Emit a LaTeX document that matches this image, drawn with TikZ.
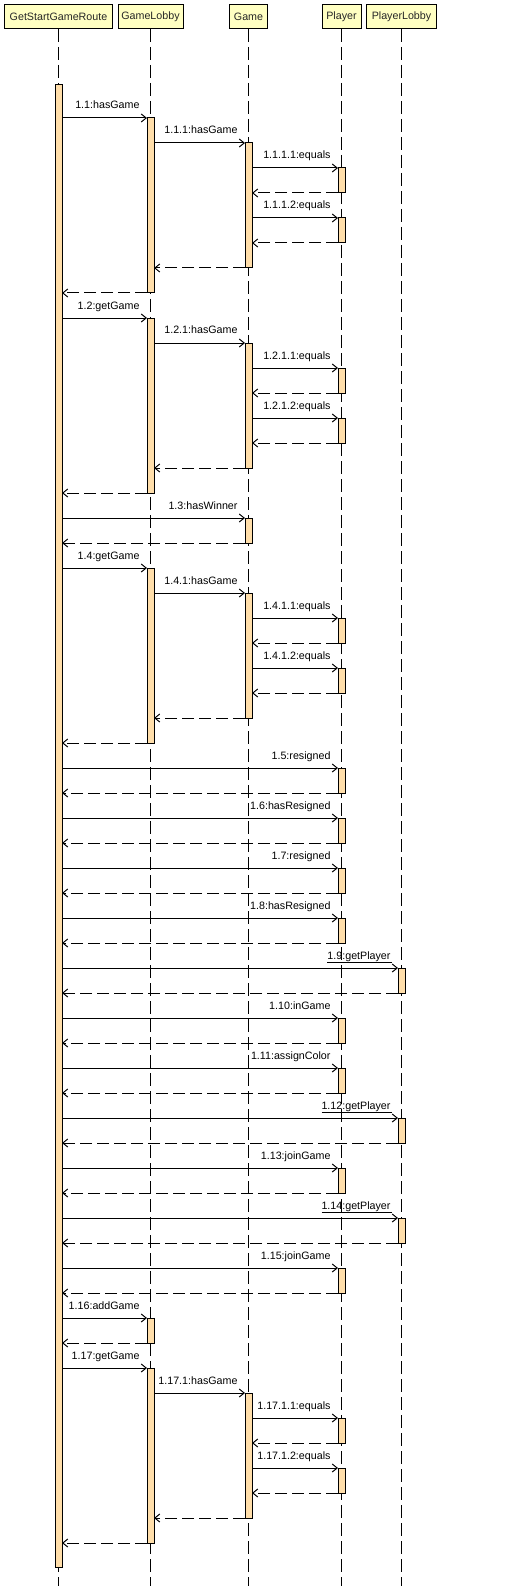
\documentclass[tikz,border=0pt]{standalone}
\usepackage{fontspec}
\setmainfont{Liberation Sans}
\usetikzlibrary{arrows.meta}
\definecolor{headfill}{RGB}{255,255,194}
\definecolor{actfill}{RGB}{255,222,170}
\tikzset{
  head/.style={draw=black, fill=headfill, line width=1pt, minimum height=24pt, inner sep=0pt, outer sep=0pt, font=\fontsize{10.7}{12}\selectfont, text=black!85},
  life/.style={line width=1pt, dash pattern=on 13pt off 5pt},
  act/.style={draw=black, fill=actfill, line width=1pt, minimum width=7pt, inner sep=0pt, outer sep=0pt},
  call/.style={line width=1pt, -{Straight Barb[length=5pt,width=8pt]}},
  ret/.style={call, dash pattern=on 12pt off 5pt},
  lbl/.style={font=\fontsize{10.7}{12}\selectfont, inner sep=0pt, anchor=base east, text=black},
}
\newcommand\actbar[4]{\pgfmathsetmacro\acttop{-118-25*(#3)}\pgfmathsetmacro\actht{25*((#4)-(#3))}\node[act, anchor=north, minimum height=\actht pt] (#1) at (#2,\acttop) {};}
\newcommand\msg[4]{\pgfmathsetmacro\my{-118-25*(#3)}\draw[call] (#1.east |- 0,\my) -- (#2.west |- 0,\my) node[lbl, xshift=-7pt, yshift=9pt]{#4};}
\newcommand\rmsg[3]{\pgfmathsetmacro\my{-118-25*(#3)}\draw[ret] (#1.west |- 0,\my) -- (#2.east |- 0,\my);}
\newcommand\ul[1]{{\setbox0\hbox{#1}\rlap{\vrule height -2.5pt depth 3.5pt width \dimexpr\wd0+1pt\relax}\box0}}
\begin{document}
\begin{tikzpicture}[x=1pt,y=1pt]
\useasboundingbox (0,0) rectangle (511,-1586);
% headers
\node[head, minimum width=108pt] (hR) at (58.5,-17) {GetStartGameRoute};
\node[head, minimum width=65pt] (hL) at (150.5,-17) {GameLobby};
\node[head, minimum width=38pt] (hG) at (248.5,-17) {Game};
\node[head, minimum width=39pt] (hP) at (341.5,-17) {Player};
\node[head, minimum width=70pt] (hB) at (401.5,-17) {PlayerLobby};
% lifelines
\foreach \h in {hR,hL,hG,hP,hB}{\draw[life] (\h.south) -- (\h.south |- 0,-1586);}
% activations
\node[act, anchor=north, minimum height=1482pt] (aR) at (58.5,-85) {};
\actbar{gl1}{150.5}{0}{7}
\actbar{gl2}{150.5}{8}{15}
\actbar{gl3}{150.5}{18}{25}
\actbar{gl4}{150.5}{48}{49}
\actbar{gl5}{150.5}{50}{57}
\actbar{g1}{248.5}{1}{6}
\actbar{g2}{248.5}{9}{14}
\actbar{g3}{248.5}{16}{17}
\actbar{g4}{248.5}{19}{24}
\actbar{g5}{248.5}{51}{56}
\actbar{p1}{341.5}{2}{3}
\actbar{p2}{341.5}{4}{5}
\actbar{p3}{341.5}{10}{11}
\actbar{p4}{341.5}{12}{13}
\actbar{p5}{341.5}{20}{21}
\actbar{p6}{341.5}{22}{23}
\actbar{p7}{341.5}{26}{27}
\actbar{p8}{341.5}{28}{29}
\actbar{p9}{341.5}{30}{31}
\actbar{p10}{341.5}{32}{33}
\actbar{p11}{341.5}{36}{37}
\actbar{p12}{341.5}{38}{39}
\actbar{p13}{341.5}{42}{43}
\actbar{p14}{341.5}{46}{47}
\actbar{p15}{341.5}{52}{53}
\actbar{p16}{341.5}{54}{55}
\actbar{l1}{401.5}{34}{35}
\actbar{l2}{401.5}{40}{41}
\actbar{l3}{401.5}{44}{45}
% messages
\msg{aR}{gl1}{0}{1.1:hasGame}
\msg{gl1}{g1}{1}{1.1.1:hasGame}
\msg{g1}{p1}{2}{1.1.1.1:equals}
\rmsg{p1}{g1}{3}
\msg{g1}{p2}{4}{1.1.1.2:equals}
\rmsg{p2}{g1}{5}
\rmsg{g1}{gl1}{6}
\rmsg{gl1}{aR}{7}
\msg{aR}{gl2}{8}{1.2:getGame}
\msg{gl2}{g2}{9}{1.2.1:hasGame}
\msg{g2}{p3}{10}{1.2.1.1:equals}
\rmsg{p3}{g2}{11}
\msg{g2}{p4}{12}{1.2.1.2:equals}
\rmsg{p4}{g2}{13}
\rmsg{g2}{gl2}{14}
\rmsg{gl2}{aR}{15}
\msg{aR}{g3}{16}{1.3:hasWinner}
\rmsg{g3}{aR}{17}
\msg{aR}{gl3}{18}{1.4:getGame}
\msg{gl3}{g4}{19}{1.4.1:hasGame}
\msg{g4}{p5}{20}{1.4.1.1:equals}
\rmsg{p5}{g4}{21}
\msg{g4}{p6}{22}{1.4.1.2:equals}
\rmsg{p6}{g4}{23}
\rmsg{g4}{gl3}{24}
\rmsg{gl3}{aR}{25}
\msg{aR}{p7}{26}{1.5:resigned}
\rmsg{p7}{aR}{27}
\msg{aR}{p8}{28}{1.6:hasResigned}
\rmsg{p8}{aR}{29}
\msg{aR}{p9}{30}{1.7:resigned}
\rmsg{p9}{aR}{31}
\msg{aR}{p10}{32}{1.8:hasResigned}
\rmsg{p10}{aR}{33}
\msg{aR}{l1}{34}{\ul{1.9:getPlayer}}
\rmsg{l1}{aR}{35}
\msg{aR}{p11}{36}{1.10:inGame}
\rmsg{p11}{aR}{37}
\msg{aR}{p12}{38}{1.11:assignColor}
\rmsg{p12}{aR}{39}
\msg{aR}{l2}{40}{\ul{1.12:getPlayer}}
\rmsg{l2}{aR}{41}
\msg{aR}{p13}{42}{1.13:joinGame}
\rmsg{p13}{aR}{43}
\msg{aR}{l3}{44}{\ul{1.14:getPlayer}}
\rmsg{l3}{aR}{45}
\msg{aR}{p14}{46}{1.15:joinGame}
\rmsg{p14}{aR}{47}
\msg{aR}{gl4}{48}{1.16:addGame}
\rmsg{gl4}{aR}{49}
\msg{aR}{gl5}{50}{1.17:getGame}
\msg{gl5}{g5}{51}{1.17.1:hasGame}
\msg{g5}{p15}{52}{1.17.1.1:equals}
\rmsg{p15}{g5}{53}
\msg{g5}{p16}{54}{1.17.1.2:equals}
\rmsg{p16}{g5}{55}
\rmsg{g5}{gl5}{56}
\rmsg{gl5}{aR}{57}
\end{tikzpicture}
\end{document}
